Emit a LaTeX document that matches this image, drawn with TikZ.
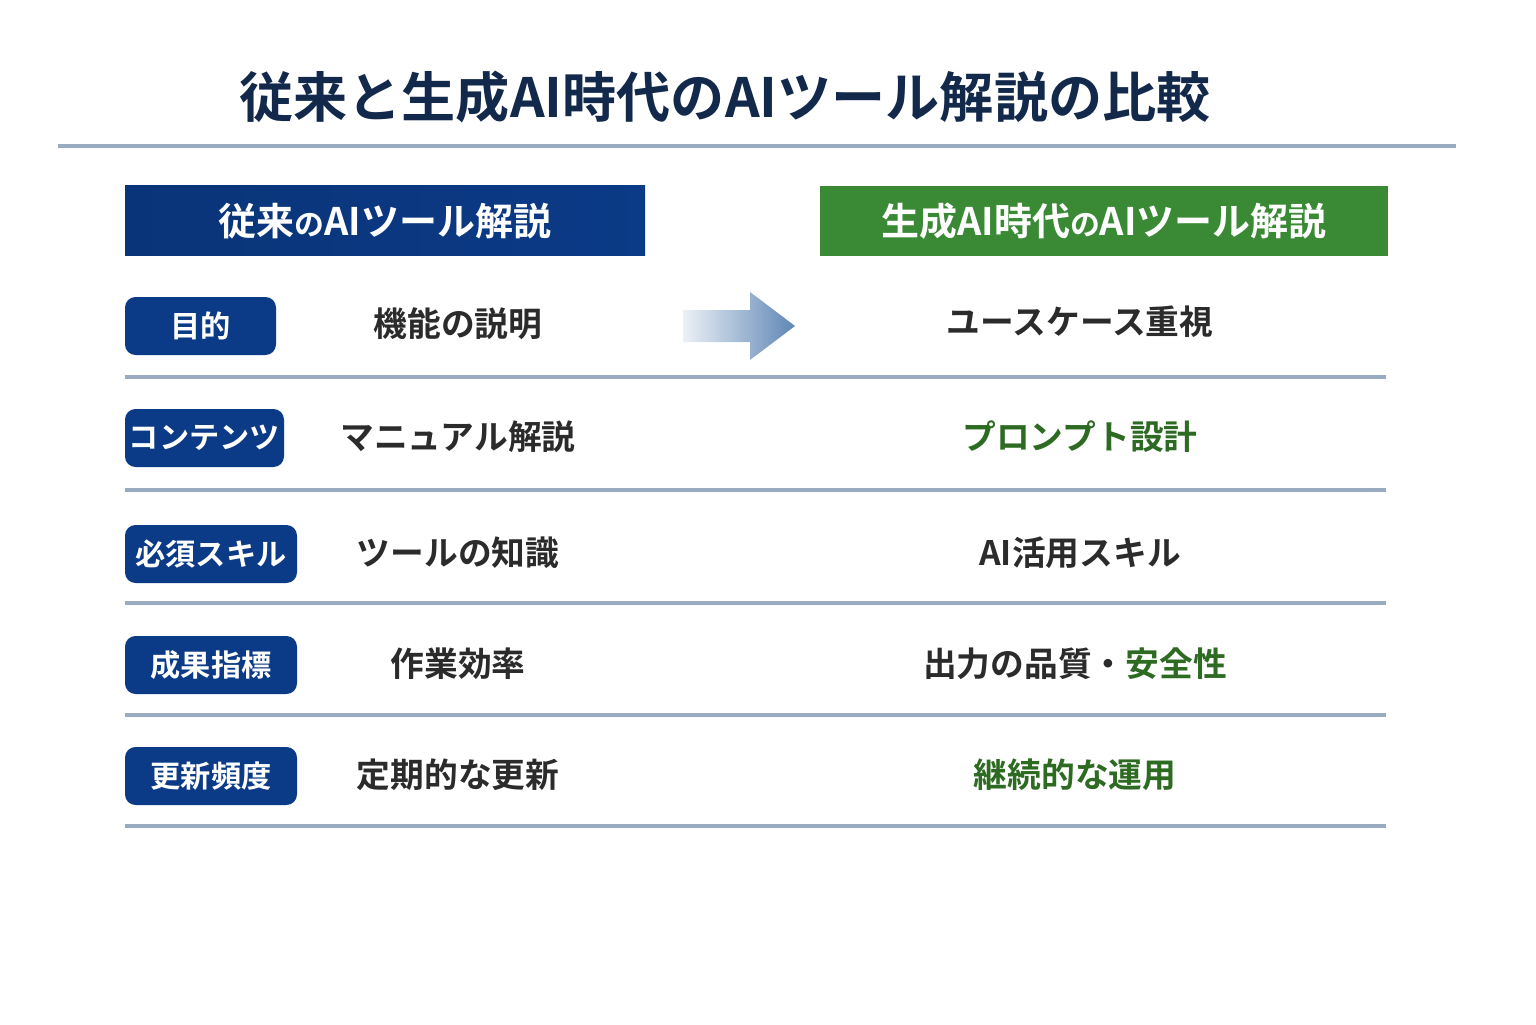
\documentclass[tikz,border=0pt]{standalone}
\usepackage{fontspec}
\setmainfont{Noto Sans CJK JP}[BoldFont={Noto Sans CJK JP Bold}]
\usetikzlibrary{positioning}
\definecolor{navy}{HTML}{0B3A86}
\definecolor{titleblue}{HTML}{13294B}
\definecolor{leaf}{HTML}{3A8A35}
\definecolor{leaftext}{HTML}{2E6B22}
\definecolor{ink}{HTML}{2B2B2B}
\definecolor{rule}{HTML}{9AAAC0}
\definecolor{steel}{HTML}{5F86B5}
\tikzset{
  header/.style={minimum height=0.70cm, text=white, font=\bfseries\fontsize{10.8}{11}\selectfont, inner sep=0pt},
  tag/.style={fill=navy, rounded corners=3pt, minimum height=0.58cm, text=white, font=\bfseries\fontsize{8.6}{9}\selectfont, inner sep=0pt},
  cell/.style={text=ink, font=\bfseries\fontsize{9.6}{10}\selectfont},
  sep/.style={rule, line width=0.9pt}
}
\begin{document}
\begin{tikzpicture}
\useasboundingbox (0,0) rectangle (15.36,10.24);
% Title
\node[text=titleblue, font=\bfseries\fontsize{15.4}{16}\selectfont] (title) at (7.25,9.27) {従来と生成AI時代のAIツール解説の比較};
\draw[rule, line width=1pt] (0.58,8.78) -- (14.56,8.78);

% Headers
\node[header, minimum width=5.20cm, left color=navy!90!black, right color=navy] (hleft) at (3.85,8.03) {従来{\fontsize{8.5}{9}\selectfont の}AIツール解説};
\node[header, minimum width=5.68cm, fill=leaf] (hright) at (11.04,8.03) {生成AI時代{\fontsize{8.5}{9}\selectfont の}AIツール解説};

% Arrow
\shade[left color=steel!12, right color=steel] (6.83,7.14) -- (7.50,7.14) -- (7.50,7.32) -- (7.95,6.98) -- (7.50,6.64) -- (7.50,6.82) -- (6.83,6.82) -- cycle;

% Rows
\node[tag, minimum width=1.51cm] (t1) at (2.005,6.98) {目的};
\node[cell] (m1) at (4.58,7.00) {機能の説明};
\node[cell] (r1) at (10.80,7.02) {ユースケース重視};
\draw[sep] (1.25,6.47) -- (13.86,6.47);

\node[tag, minimum width=1.59cm] (t2) at (2.045,5.86) {コンテンツ};
\node[cell] (m2) at (4.58,5.87) {マニュアル解説};
\node[cell, text=leaftext] (r2) at (10.80,5.87) {プロンプト設計};
\draw[sep] (1.25,5.34) -- (13.86,5.34);

\node[tag, minimum width=1.72cm] (t3) at (2.11,4.70) {必須スキル};
\node[cell] (m3) at (4.58,4.71) {ツールの知識};
\node[cell] (r3) at (10.80,4.71) {AI活用スキル};
\draw[sep] (1.25,4.21) -- (13.86,4.21);

\node[tag, minimum width=1.72cm] (t4) at (2.11,3.59) {成果指標};
\node[cell] (m4) at (4.58,3.60) {作業効率};
\node[cell] (r4) at (10.75,3.60) {出力の品質・\textcolor{leaftext}{安全性}};
\draw[sep] (1.25,3.09) -- (13.86,3.09);

\node[tag, minimum width=1.72cm] (t5) at (2.11,2.48) {更新頻度};
\node[cell] (m5) at (4.58,2.49) {定期的な更新};
\node[cell, text=leaftext] (r5) at (10.75,2.49) {継続的な運用};
\draw[sep] (1.25,1.98) -- (13.86,1.98);
\end{tikzpicture}
\end{document}
